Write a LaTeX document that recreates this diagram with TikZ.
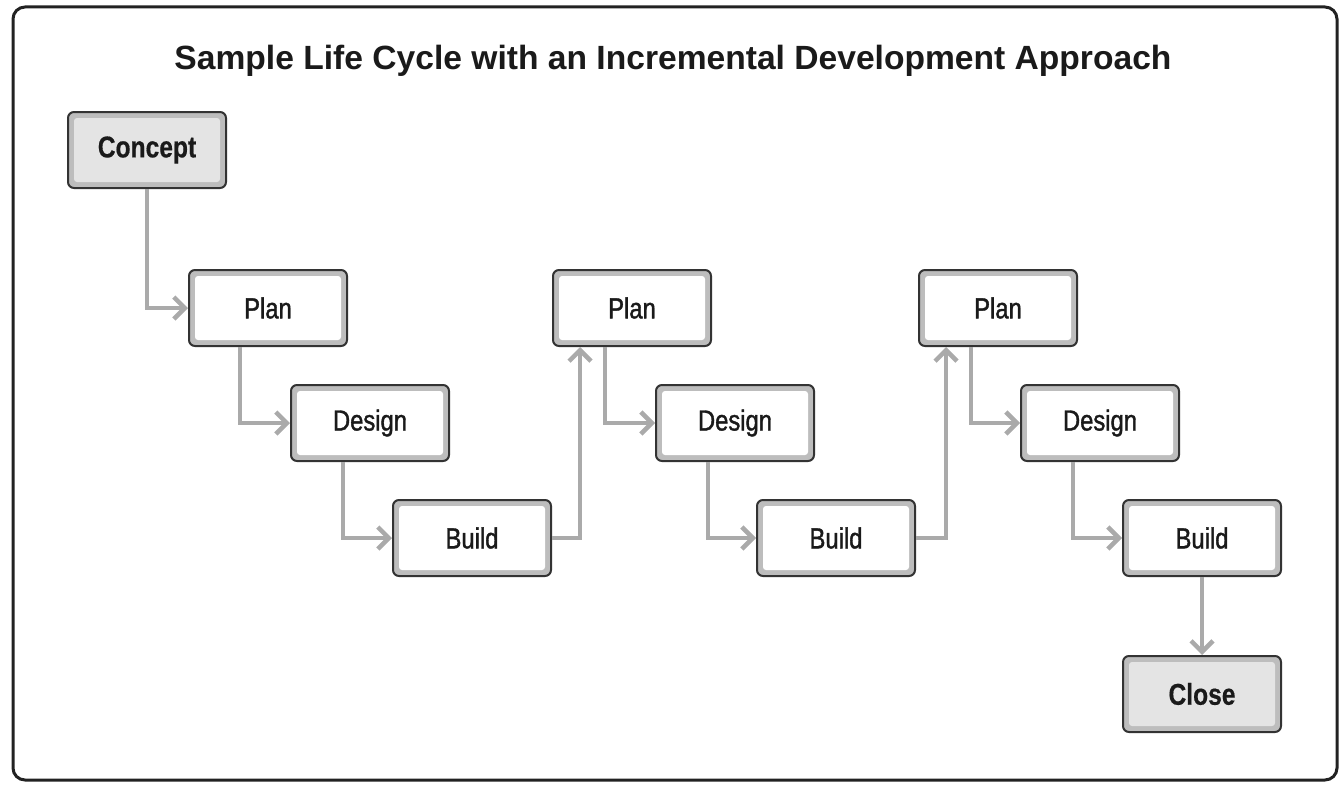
\documentclass[tikz,border=0pt]{standalone}
\usepackage{fontspec}
\setmainfont{Liberation Sans}
\newfontfamily\boxfont[FakeStretch=0.82,FakeBold=1.3]{Liberation Sans}
\newfontfamily\gatefont[FakeStretch=0.82,FakeBold=0.5]{Liberation Sans Bold}
\usetikzlibrary{arrows.meta}
\definecolor{frame}{HTML}{222222}
\definecolor{edge}{HTML}{333333}
\definecolor{band}{HTML}{BDBDBD}
\definecolor{inner}{HTML}{FFFFFF}
\definecolor{hinner}{HTML}{E4E4E4}
\definecolor{conn}{HTML}{AAAAAA}
\definecolor{txt}{HTML}{1A1A1A}
\tikzset{
  phase/.style={draw=edge, line width=2pt, fill=band, rounded corners=6pt,
    minimum width=158pt, minimum height=76pt, inner sep=0pt,
    text=txt, font=\boxfont\fontsize{29}{32}\selectfont,
    path picture={\fill[#1, rounded corners=3pt]
      ([shift={(6pt,6pt)}]path picture bounding box.south west) rectangle
      ([shift={(-6pt,-6pt)}]path picture bounding box.north east);}},
  phase/.default=inner,
  gate/.style={phase=hinner, font=\gatefont\fontsize{30}{33}\selectfont},
  flow/.style={draw=conn, line width=4.5pt,
    -{Straight Barb[length=11pt,width=22pt,line width=4.5pt]}}
}
\begin{document}
\begin{tikzpicture}[x=1pt,y=-1pt]
\useasboundingbox (0,0) rectangle (1340,784);
\draw[frame, line width=3pt, rounded corners=12pt] (13,7) rectangle (1337,780);
\node[font=\bfseries\fontsize{33.6}{38}\selectfont, text=txt] (title) at (673,61)
  {Sample Life Cycle with an Incremental Development Approach};
\node[gate] (concept) at (147,150) {Concept};
\node[phase] (plan1) at (268,308) {Plan};
\node[phase] (design1) at (370,423) {Design};
\node[phase] (build1) at (472,538) {Build};
\node[phase] (plan2) at (632,308) {Plan};
\node[phase] (design2) at (735,423) {Design};
\node[phase] (build2) at (836,538) {Build};
\node[phase] (plan3) at (998,308) {Plan};
\node[phase] (design3) at (1100,423) {Design};
\node[phase] (build3) at (1202,538) {Build};
\node[gate] (close) at (1202,694) {Close};
\draw[flow] (concept.south) |- (plan1.west);
\draw[flow] ([xshift=-28pt]plan1.south) |- (design1.west);
\draw[flow] ([xshift=-27pt]design1.south) |- (build1.west);
\draw[flow] (build1.east) -| ([xshift=-52pt]plan2.south);
\draw[flow] ([xshift=-27pt]plan2.south) |- (design2.west);
\draw[flow] ([xshift=-27pt]design2.south) |- (build2.west);
\draw[flow] (build2.east) -| ([xshift=-52pt]plan3.south);
\draw[flow] ([xshift=-27pt]plan3.south) |- (design3.west);
\draw[flow] ([xshift=-27pt]design3.south) |- (build3.west);
\draw[flow] (build3.south) -- (close.north);
\end{tikzpicture}
\end{document}
